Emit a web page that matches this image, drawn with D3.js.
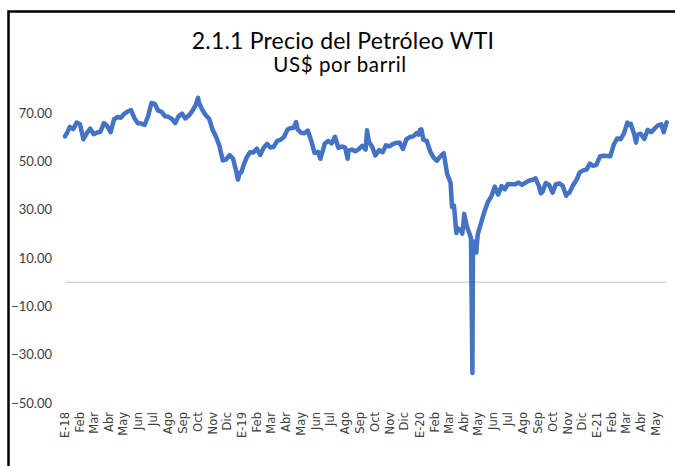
<!DOCTYPE html>
<html>
<head>
<meta charset="utf-8">
<script src="https://cdn.jsdelivr.net/npm/d3@7"></script>
<style>
html,body{margin:0;padding:0;background:#fff;}
svg{display:block;}
</style>
</head>
<body>
<svg id="chart" width="675" height="466"></svg>
<script>
const title = "2.1.1 Precio del Petróleo WTI";
const subtitle = "US$ por barril";
const yTicks = [70, 50, 30, 10, -10, -30, -50];
const monthLabels = ["E-18","Feb","Mar","Abr","May","Jun","Jul","Ago","Sep","Oct","Nov","Dic",
  "E-19","Feb","Mar","Abr","May","Jun","Jul","Ago","Sep","Oct","Nov","Dic",
  "E-20","Feb","Mar","Abr","May","Jun","Jul","Ago","Sep","Oct","Nov","Dic",
  "E-21","Feb","Mar","Abr","May"];
const dates = [
"2018-01-02","2018-01-05","2018-01-12","2018-01-19","2018-01-26","2018-02-02","2018-02-09","2018-02-16","2018-02-23",
"2018-03-02","2018-03-09","2018-03-16","2018-03-23","2018-03-29","2018-04-06","2018-04-13","2018-04-20","2018-04-27",
"2018-05-04","2018-05-11","2018-05-18","2018-05-25","2018-06-01","2018-06-08","2018-06-15","2018-06-22","2018-06-29",
"2018-07-06","2018-07-13","2018-07-20","2018-07-27","2018-08-03","2018-08-10","2018-08-17","2018-08-24","2018-08-31",
"2018-09-07","2018-09-14","2018-09-21","2018-09-28","2018-10-03","2018-10-05","2018-10-12","2018-10-19","2018-10-26",
"2018-11-02","2018-11-09","2018-11-16","2018-11-23","2018-11-30","2018-12-07","2018-12-14","2018-12-21","2018-12-24",
"2018-12-28","2018-12-31",
"2019-01-04","2019-01-11","2019-01-18","2019-01-25","2019-02-01","2019-02-08","2019-02-15","2019-02-22",
"2019-03-01","2019-03-08","2019-03-15","2019-03-22","2019-03-29","2019-04-05","2019-04-12","2019-04-18","2019-04-23",
"2019-04-26","2019-05-03","2019-05-10","2019-05-17","2019-05-24","2019-05-31","2019-06-07","2019-06-12","2019-06-14",
"2019-06-21","2019-06-28","2019-07-05","2019-07-12","2019-07-19","2019-07-26","2019-08-02","2019-08-07","2019-08-09",
"2019-08-16","2019-08-23","2019-08-30","2019-09-06","2019-09-13","2019-09-16","2019-09-20","2019-09-27","2019-10-03",
"2019-10-11","2019-10-18","2019-10-25","2019-11-01","2019-11-08","2019-11-15","2019-11-22","2019-11-29","2019-12-06",
"2019-12-13","2019-12-20","2019-12-27","2019-12-31",
"2020-01-03","2020-01-06","2020-01-10","2020-01-17","2020-01-24","2020-01-31","2020-02-07","2020-02-14","2020-02-21",
"2020-02-28","2020-03-06","2020-03-09","2020-03-13","2020-03-18","2020-03-20","2020-03-27","2020-03-30","2020-04-02",
"2020-04-03","2020-04-09","2020-04-14","2020-04-17","2020-04-20","2020-04-21","2020-04-22","2020-04-24","2020-04-27",
"2020-04-28","2020-04-29","2020-05-01","2020-05-08","2020-05-15","2020-05-22","2020-05-29","2020-06-05","2020-06-12",
"2020-06-19","2020-06-26","2020-07-02","2020-07-10","2020-07-17","2020-07-24","2020-07-31","2020-08-07","2020-08-14",
"2020-08-21","2020-08-28","2020-09-04","2020-09-08","2020-09-11","2020-09-18","2020-09-25","2020-10-02","2020-10-09",
"2020-10-16","2020-10-23","2020-10-30","2020-11-02","2020-11-06","2020-11-13","2020-11-20","2020-11-27","2020-12-04",
"2020-12-11","2020-12-18","2020-12-24","2020-12-31",
"2021-01-08","2021-01-15","2021-01-22","2021-01-29","2021-02-05","2021-02-12","2021-02-19","2021-02-26","2021-03-05",
"2021-03-08","2021-03-12","2021-03-19","2021-03-23","2021-03-26","2021-04-01","2021-04-09","2021-04-16","2021-04-23",
"2021-04-30","2021-05-07","2021-05-14","2021-05-19","2021-05-21","2021-05-25"
];
const prices = [
60.4,61.4,64.3,63.4,66.1,65.4,59.2,61.7,63.6,
61.3,62.0,62.3,65.9,64.9,62.1,67.4,68.4,68.1,
69.7,70.7,71.3,67.9,65.8,65.7,65.1,68.6,74.2,
73.8,71.0,70.5,68.7,68.5,67.6,65.9,68.7,69.8,
67.8,69.0,70.8,73.3,76.4,74.3,71.3,69.1,67.6,
63.1,60.2,56.5,50.4,50.9,52.6,51.2,45.6,42.5,
45.3,45.4,
48.0,51.6,53.8,53.7,55.3,52.7,55.6,57.3,
55.8,56.1,58.5,59.0,60.1,63.1,63.9,64.0,66.3,
63.3,61.9,61.7,62.8,58.6,53.5,54.0,51.1,52.5,
57.4,58.5,57.5,60.2,55.6,56.2,55.7,51.1,54.5,
54.9,54.2,55.1,56.5,54.9,62.9,58.1,55.9,52.5,
54.7,53.8,56.7,56.2,57.2,57.7,57.8,55.2,59.2,
60.1,60.4,61.7,61.1,
63.1,63.3,59.0,58.5,54.2,51.6,50.3,52.1,53.4,
44.8,41.3,31.1,31.7,20.4,22.4,21.5,20.1,25.3,
28.3,22.8,20.1,18.3,-37.6,10.0,13.8,16.9,12.8,
12.3,15.1,19.8,24.7,29.4,33.3,35.5,39.6,36.3,
39.8,38.5,40.7,40.6,40.6,41.3,40.3,41.2,42.0,
42.3,43.0,39.8,36.8,37.3,41.1,40.3,37.1,40.6,
40.9,39.9,35.8,36.8,37.1,40.1,42.2,45.5,46.3,
46.6,49.1,48.2,48.5,
52.2,52.4,52.3,52.2,56.9,59.5,59.2,61.5,66.1,
65.1,65.6,61.4,57.8,61.0,61.5,59.3,63.1,62.1,
63.6,64.9,65.4,62.1,63.6,66.2
];

const svg = d3.select("#chart");
const parse = d3.timeParse("%Y-%m-%d");
const data = dates.map((d, i) => ({ date: parse(d), value: prices[i] }));

// frame
svg.append("path")
  .attr("d", "M8.5,475 L8.5,11.5 L680,11.5")
  .attr("fill", "none").attr("stroke", "#000").attr("stroke-width", 2.5);

// titles
svg.append("text").attr("x", 343).attr("y", 49).attr("text-anchor", "middle")
  .style("font-family", "Lato, 'Open Sans', sans-serif").style("font-size", "23px")
  .style("letter-spacing", "0.2px").attr("fill", "#000")
  .text(title);
svg.append("text").attr("x", 340).attr("y", 72).attr("text-anchor", "middle")
  .style("font-family", "Lato, 'Open Sans', sans-serif").style("font-size", "20.5px")
  .style("letter-spacing", "0.6px").attr("fill", "#000")
  .text(subtitle);

const x = d3.scaleTime()
  .domain([new Date(2018, 0, 1), new Date(2021, 4, 1)])
  .range([64.5, 655]);
const y = d3.scaleLinear().domain([-50, 80]).range([403, 89]);

// y axis labels
const yAxis = d3.axisLeft(y).tickValues(yTicks).tickFormat(d3.format(".2f")).tickSize(0).tickPadding(0);
const gy = svg.append("g").attr("transform", "translate(52,0)").call(yAxis);
gy.select(".domain").remove();
gy.selectAll("text").style("font-family", "Lato, sans-serif").style("font-size", "13px").attr("fill", "#404040");

// zero line
svg.append("line")
  .attr("x1", x(data[0].date)).attr("x2", x(data[data.length - 1].date))
  .attr("y1", y(0)).attr("y2", y(0))
  .attr("stroke", "#d9d9d9").attr("stroke-width", 1.5);

// x labels
const monthDates = d3.timeMonth.range(new Date(2018, 0, 1), new Date(2021, 5, 1));
const xAxis = d3.axisBottom(x).tickValues(monthDates).tickFormat((d, i) => monthLabels[i]).tickSize(0).tickPadding(0);
const gx = svg.append("g").attr("transform", "translate(0,412)").call(xAxis);
gx.select(".domain").remove();
gx.selectAll("text")
  .attr("transform", "rotate(-90)")
  .attr("text-anchor", "end")
  .attr("x", 0).attr("y", 0).attr("dy", "0.35em")
  .style("font-family", "'DejaVu Sans', sans-serif").style("font-size", "11.5px").attr("fill", "#404040");

// line
const line = d3.line().x(d => x(d.date)).y(d => y(d.value));
svg.append("path").datum(data)
  .attr("d", line)
  .attr("fill", "none")
  .attr("stroke", "#4472C4")
  .attr("stroke-width", 4.5)
  .attr("stroke-linejoin", "round")
  .attr("stroke-linecap", "round");
</script>
</body>
</html>
